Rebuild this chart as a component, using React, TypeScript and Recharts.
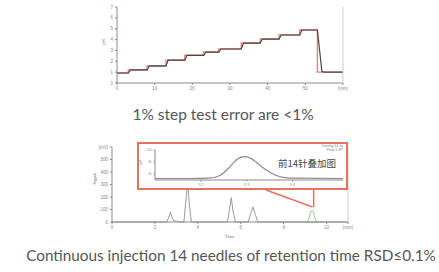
import React from "react";
import { LineChart, Line, XAxis, YAxis, ReferenceLine } from "recharts";

// top chart: 1% step test (setpoint vs. measured)
const setTime = [0, 3, 8, 13, 18, 23, 27, 33, 38, 43, 48.5, 53.2, 60];
const setValue = [0.92, 1.2, 1.57, 2.1, 2.55, 2.85, 3.13, 3.68, 4.05, 4.42, 4.88, 1.0, 1.0];

const measTime = [0, 3, 3.6, 8, 8.6, 13, 13.6, 18, 18.6, 23, 23.6, 27, 27.6, 33, 33.6, 38, 38.6, 43, 43.6, 48.5, 49.1, 53.2, 54.4, 55, 60];
const measValue = [0.92, 0.92, 1.2, 1.2, 1.57, 1.57, 2.1, 2.1, 2.55, 2.55, 2.85, 2.85, 3.13, 3.13, 3.68, 3.68, 4.05, 4.05, 4.42, 4.42, 4.88, 4.88, 1.05, 1.0, 1.0];

const stepXTicks = [0, 10, 20, 30, 40, 50, 60];
const stepYTicks = [0, 1, 2, 3, 4, 5, 6, 7];

// bottom chart: chromatogram, 14 injections overlaid
const chromTime = [0, 2.55, 2.65, 2.73, 2.8, 2.9, 2.98, 3.05, 3.35, 3.44, 3.52, 3.6, 3.7, 5.38, 5.48, 5.56, 5.64, 5.75, 6.35, 6.47, 6.57, 6.68, 6.8, 11];
const chromSignal = [0, 0, 40, 80, 35, 4, 14, 2, 0, 160, 330, 150, 0, 0, 100, 195, 90, 0, 0, 70, 120, 60, 0, 0];

const lastPeakTime = [9.05, 9.18, 9.28, 9.36, 9.45, 9.6];
const lastPeakSignal = [0, 30, 88, 92, 35, 0];

const chromXTicks = [0, 2, 4, 6, 8, 10, 11];
const chromYTicks = [0, 100, 200, 300, 400, 500, 600];

// inset: zoom on the last peak
const insetTime = [9.1, 9.178, 9.215, 9.233, 9.248, 9.261, 9.274, 9.287, 9.298, 9.309, 9.322, 9.335, 9.348, 9.363, 9.38, 9.407, 9.51];
const insetSignal = [5, 5, 6, 10, 22, 40, 62, 76, 78, 72, 58, 42, 28, 16, 9, 6, 5];
const insetXTicks = [9.2, 9.3, 9.4];
const insetYTicks = [0, 20, 40, 60, 80, 100];

const toRows = (xs: number[], ys: number[]) => xs.map((x, i) => ({ x, y: ys[i] }));

const tickFont = { fontSize: 4.5, fill: "#888", fontFamily: "Liberation Sans" };
const axisGray = "#8a8a8a";
const frameGray = "#cfcfcf";
const calloutRed = "#e4735f";

export default function App() {
  return (
    <div
      style={{
        position: "absolute",
        left: 0,
        top: 0,
        width: 439,
        height: 272,
        background: "#fff",
        overflow: "hidden",
      }}
    >
      {/* step test */}
      <div style={{ position: "absolute", left: 0, top: 0 }}>
        <LineChart width={439} height={95} margin={{ top: 7, right: 95, left: 87, bottom: 2 }}>
          <XAxis
            xAxisId="b"
            type="number"
            dataKey="x"
            domain={[0, 60]}
            ticks={stepXTicks}
            tick={tickFont}
            tickFormatter={(v) => (v === 60 ? "[min]" : `${v}`)}
            stroke={axisGray}
            tickSize={2}
            height={10}
          />
          <XAxis xAxisId="t" type="number" orientation="top" domain={[0, 60]} tick={false} stroke={frameGray} height={0} />
          <YAxis
            yAxisId="l"
            type="number"
            domain={[0, 7]}
            ticks={stepYTicks}
            tick={tickFont}
            stroke={axisGray}
            tickSize={2}
            width={30}
            label={{ value: "kW", angle: -90, position: "insideLeft", offset: 16, style: { fontSize: 4.5, fill: "#666" } }}
          />
          <YAxis yAxisId="r" orientation="right" domain={[0, 7]} tick={false} stroke={frameGray} width={1} />
          <Line
            xAxisId="b"
            yAxisId="l"
            data={toRows(setTime, setValue)}
            dataKey="y"
            type="stepAfter"
            stroke="#d9534f"
            strokeOpacity={0.7}
            strokeWidth={1.4}
            dot={false}
            isAnimationActive={false}
          />
          <Line
            xAxisId="b"
            yAxisId="l"
            data={toRows(measTime, measValue)}
            dataKey="y"
            type="linear"
            stroke="#4a4545"
            strokeWidth={1.2}
            dot={false}
            isAnimationActive={false}
          />
        </LineChart>
      </div>

      <div
        style={{
          position: "absolute",
          left: 0,
          width: 446,
          top: 105,
          textAlign: "center",
          fontFamily: "Lato",
          fontSize: 15.5,
          color: "#555",
        }}
      >
        1% step test error are &lt;1%
      </div>

      {/* chromatogram */}
      <div style={{ position: "absolute", left: 0, top: 130 }}>
        <LineChart width={439} height={110} margin={{ top: 17, right: 90, left: 88, bottom: 4 }}>
          <XAxis
            xAxisId="b"
            type="number"
            dataKey="x"
            domain={[0, 11]}
            ticks={chromXTicks}
            tick={tickFont}
            tickFormatter={(v) => (v === 11 ? "[min]" : `${v}`)}
            stroke={axisGray}
            tickSize={2}
            height={14}
            label={{ value: "Time", position: "insideBottom", offset: -2, style: { fontSize: 4.5, fill: "#666" } }}
          />
          <XAxis xAxisId="t" type="number" orientation="top" domain={[0, 11]} tick={false} stroke={frameGray} height={0} />
          <YAxis
            yAxisId="l"
            type="number"
            domain={[0, 600]}
            ticks={chromYTicks}
            tick={tickFont}
            tickFormatter={(v) => (v === 600 ? "[mV]" : `${v}`)}
            stroke={axisGray}
            tickSize={2}
            width={24}
            label={{ value: "Signal", angle: -90, position: "insideLeft", offset: 6, style: { fontSize: 4.5, fill: "#666" } }}
          />
          <YAxis yAxisId="r" orientation="right" domain={[0, 600]} tick={false} stroke={frameGray} width={1} />
          <Line
            xAxisId="b"
            yAxisId="l"
            data={toRows(chromTime, chromSignal)}
            dataKey="y"
            type="linear"
            stroke="#9a9a9a"
            strokeWidth={1}
            dot={false}
            isAnimationActive={false}
          />
          <Line
            xAxisId="b"
            yAxisId="l"
            data={toRows(lastPeakTime, lastPeakSignal)}
            dataKey="y"
            type="monotone"
            stroke="#8cc08c"
            strokeWidth={1}
            dot={false}
            isAnimationActive={false}
          />
          <ReferenceLine
            xAxisId="b"
            yAxisId="l"
            segment={[{ x: 7.18, y: 256 }, { x: 9.35, y: 120 }]}
            stroke={calloutRed}
            strokeWidth={1.5}
            ifOverflow="visible"
          />
          <ReferenceLine
            xAxisId="b"
            yAxisId="l"
            segment={[{ x: 9.4, y: 120 }, { x: 9.4, y: 256 }]}
            stroke={calloutRed}
            strokeWidth={1.5}
            ifOverflow="visible"
          />
        </LineChart>
      </div>

      {/* inset box */}
      <div
        style={{
          position: "absolute",
          left: 137,
          top: 142,
          width: 211,
          height: 48,
          boxSizing: "border-box",
          border: `2px solid ${calloutRed}`,
          background: "#fff",
        }}
      >
        <LineChart width={207} height={44} margin={{ top: 6, right: 3, left: 6, bottom: 1 }}>
          <XAxis
            type="number"
            dataKey="x"
            domain={[9.1, 9.51]}
            ticks={insetXTicks}
            tick={{ ...tickFont, fontSize: 3.5 }}
            stroke={axisGray}
            tickSize={1.5}
            height={7}
          />
          <YAxis
            type="number"
            domain={[0, 100]}
            ticks={insetYTicks}
            tick={{ ...tickFont, fontSize: 3 }}
            stroke={axisGray}
            tickSize={1.5}
            width={10}
            label={{ value: "mV", angle: -90, position: "insideLeft", offset: -4, style: { fontSize: 3.5, fill: "#666" } }}
          />
          <Line
            data={toRows(insetTime, insetSignal)}
            dataKey="y"
            type="monotone"
            stroke="#8a8a8a"
            strokeWidth={1.2}
            dot={false}
            isAnimationActive={false}
          />
        </LineChart>
        <div
          style={{
            position: "absolute",
            right: 3,
            top: 0,
            fontFamily: "Liberation Sans",
            fontSize: 3.5,
            lineHeight: "4px",
            color: "#777",
            textAlign: "right",
          }}
        >
          <div>Overlay 14 inj</div>
          <div>Peak 5 RT</div>
        </div>
        <div
          style={{
            position: "absolute",
            left: 139,
            top: 12,
            fontFamily: "Noto Sans CJK SC",
            fontSize: 9.5,
            color: "#444",
          }}
        >
          前14针叠加图
        </div>
      </div>

      <div
        style={{
          position: "absolute",
          left: 0,
          width: 462,
          top: 246,
          textAlign: "center",
          fontFamily: "Lato",
          fontSize: 15.3,
          color: "#555",
        }}
      >
        Continuous injection 14 needles of retention time RSD≤0.1%
      </div>
    </div>
  );
}
